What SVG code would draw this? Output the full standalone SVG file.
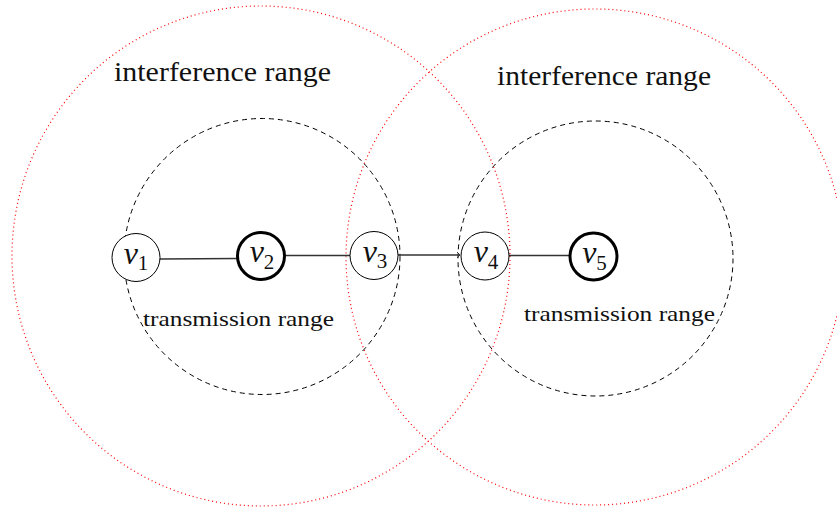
<svg xmlns="http://www.w3.org/2000/svg" width="837" height="510" viewBox="0 0 837 510">
<style>
.intf{fill:none;stroke:#ff0000;stroke-width:1.2;stroke-dasharray:1 3;}
.tx{fill:none;stroke:#000;stroke-width:1;stroke-dasharray:5 4;}
.node{fill:#fff;stroke:#000;stroke-width:1;}
.bold{stroke-width:3;}
.edge{stroke:#333;stroke-width:1.4;fill:none;}
.lbl{font-family:"Liberation Serif",serif;fill:#111;}
.big{font-size:28px;}
.small{font-size:22px;}
.nl{font-family:"Liberation Serif",serif;font-style:italic;font-size:32px;fill:#111;text-anchor:middle;}
.sub{font-style:normal;font-size:21px;}
</style>
<defs>
<marker id="arr" markerWidth="6" markerHeight="8" refX="4" refY="4" orient="auto" markerUnits="userSpaceOnUse">
<path d="M1,1 L4,4 L1,7" fill="none" stroke="#333" stroke-width="1"/>
</marker>
</defs>
<g id="ranges">
<ellipse class="intf" cx="261" cy="256" rx="249" ry="250"/>
<ellipse class="intf" cx="595" cy="257" rx="249" ry="248"/>
<circle class="tx" cx="262" cy="256.5" r="138"/>
<circle class="tx" cx="595.5" cy="258.5" r="137.5"/>
</g>
<g id="labels">
<text class="lbl big" x="114" y="81" textLength="217" lengthAdjust="spacingAndGlyphs">interference range</text>
<text class="lbl big" x="497" y="85" textLength="214" lengthAdjust="spacingAndGlyphs">interference range</text>
<text class="lbl small" x="143" y="326" textLength="191" lengthAdjust="spacingAndGlyphs">transmission range</text>
<text class="lbl small" x="524" y="321" textLength="191" lengthAdjust="spacingAndGlyphs">transmission range</text>
</g>
<g id="edges">
<line class="edge" x1="160" y1="259" x2="237" y2="258.5"/>
<line class="edge" x1="285" y1="255.5" x2="350" y2="255.5"/>
<line class="edge" x1="398" y1="255" x2="460" y2="255" marker-end="url(#arr)"/>
<line class="edge" x1="509" y1="255.5" x2="569" y2="255.5"/>
</g>
<g id="v1"><circle class="node" cx="136" cy="257.5" r="24"/><text class="nl" x="136" y="264">v<tspan class="sub" dy="6">1</tspan></text></g>
<g id="v2"><circle class="node bold" cx="261" cy="256" r="23.5"/><text class="nl" x="262" y="262">v<tspan class="sub" dy="7">2</tspan></text></g>
<g id="v3"><circle class="node" cx="374" cy="255.5" r="24"/><text class="nl" x="375" y="262">v<tspan class="sub" dy="6">3</tspan></text></g>
<g id="v4"><circle class="node" cx="485" cy="256" r="24"/><text class="nl" x="486" y="262">v<tspan class="sub" dy="7">4</tspan></text></g>
<g id="v5"><circle class="node bold" cx="593.5" cy="256.5" r="23.5"/><text class="nl" x="594.5" y="263">v<tspan class="sub" dy="7">5</tspan></text></g>
</svg>
